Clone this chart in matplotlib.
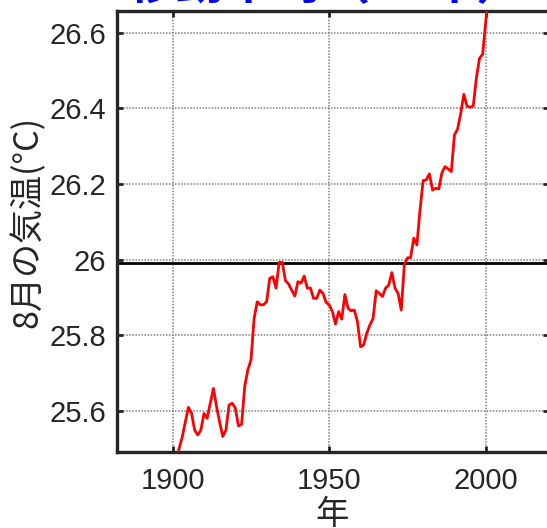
import numpy as np
import matplotlib
matplotlib.use('Agg')
import matplotlib.pyplot as plt

# August mean temperature, running mean by year
years = np.arange(1901, 2002)
temps = [
    25.46, 25.50, 25.53, 25.57, 25.61, 25.595, 25.55, 25.537, 25.55, 25.594,
    25.581, 25.621, 25.660, 25.612, 25.570, 25.533, 25.550, 25.616, 25.621, 25.608,
    25.561, 25.565, 25.665, 25.709, 25.735, 25.845, 25.889, 25.881, 25.881, 25.889,
    25.951, 25.955, 25.925, 25.993, 25.993, 25.945, 25.936, 25.920, 25.904, 25.942,
    25.938, 25.957, 25.925, 25.925, 25.898, 25.898, 25.920, 25.911, 25.887, 25.881,
    25.863, 25.830, 25.863, 25.843, 25.908, 25.872, 25.865, 25.867, 25.837, 25.770,
    25.775, 25.806, 25.828, 25.845, 25.918, 25.911, 25.903, 25.925, 25.933, 25.966,
    25.925, 25.911, 25.867, 25.988, 26.005, 26.006, 26.057, 26.039, 26.132, 26.209,
    26.211, 26.227, 26.184, 26.189, 26.187, 26.230, 26.246, 26.240, 26.233, 26.330,
    26.345, 26.387, 26.437, 26.406, 26.403, 26.406, 26.480, 26.532, 26.543, 26.629,
    26.720,
]
base_level = 25.9915

xticks = [1900, 1950, 2000]
yticks = [25.6, 25.8, 26.0, 26.2, 26.4, 26.6]
ytick_labels = ['25.6', '25.8', '26', '26.2', '26.4', '26.6']

jp_font = ['Noto Sans CJK JP', 'DejaVu Sans']
num_font = ['Liberation Sans', 'DejaVu Sans']
dark = '#262626'

fig = plt.figure(figsize=(5.47, 5.28), dpi=100)
ax = fig.add_axes([117 / 547, 1 - 452 / 528, 432 / 547, 441.3 / 528])

ax.plot(years, temps, color='red', lw=2.0, zorder=3)
ax.axhline(base_level, color='black', lw=2.0, zorder=2)

ax.set_xlim(1882.2, 2020.2)
ax.set_ylim(25.492, 26.658)
ax.set_xticks(xticks)
ax.set_xticklabels([str(t) for t in xticks], fontfamily=num_font, fontsize=21, color=dark)
ax.set_yticks(yticks)
ax.set_yticklabels(ytick_labels, fontfamily=num_font, fontsize=21, color=dark)

ax.grid(True, linestyle=(0, (1, 1)), color='0.5', lw=1.1)
ax.tick_params(direction='in', length=4, width=2, top=True, right=True, color=dark)
ax.tick_params(axis='x', pad=11)
ax.tick_params(axis='y', pad=8)
for s in ax.spines.values():
    s.set_linewidth(2.4)
    s.set_color(dark)

ax.set_xlabel('年', fontfamily=jp_font, fontsize=24, color=dark)
ax.xaxis.set_label_coords(0.497, -0.103)
ax.set_ylabel('8月の気温(°C)', fontfamily=jp_font, fontsize=24.5, color=dark)
ax.yaxis.set_label_coords(-0.165, 0.521)

# title sits above the axes, mostly off the top of the canvas
fig.text(0.596, 1 + 1 / 528, '移動平均（11年）', fontfamily=jp_font, fontsize=35,
         fontweight='bold', color='blue', ha='center', va='baseline')

fig.savefig('out.png', dpi=100)
